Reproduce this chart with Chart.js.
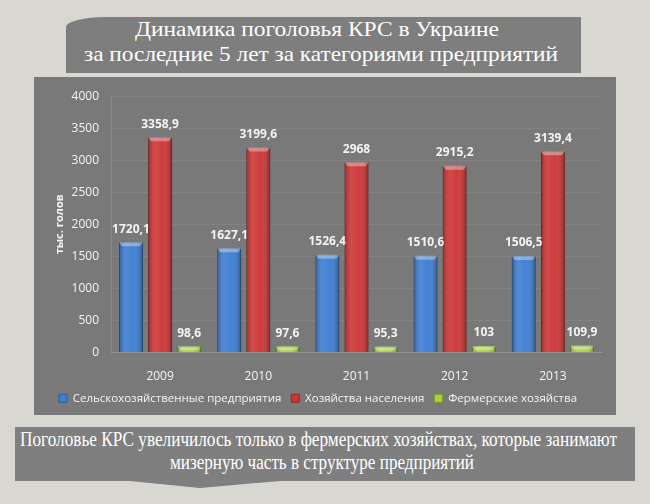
<!DOCTYPE html>
<html>
<head>
<meta charset="utf-8">
<script src="https://cdn.jsdelivr.net/npm/chart.js@4"></script>
<style>
    body { margin: 0; width: 650px; height: 504px; background: #d9d7d1; position: relative; overflow: hidden; }
    #caixaTitulo { position: absolute; left: 66px; top: 17px; width: 515px; height: 56px; background: #7e7e7e; border-top-left-radius: 40px 10px; }
    #painel { position: absolute; left: 34px; top: 77px; width: 582px; height: 338px; background: #797979; }
    #caixaNota { position: absolute; left: 15px; top: 427px; width: 620px; height: 62px; background: #7f7f7f;
        clip-path: polygon(0 0, 620px 0, 620px 54px, 265px 54px, 185px 61px, 115px 54px, 0 54px); }
    .linha { position: absolute; white-space: nowrap; color: #fff; font-family: "Liberation Serif", "DejaVu Serif", serif; font-size: 21px; line-height: 21px; }
    .linha span { display: inline-block; transform-origin: 0 0; }
</style>
</head>
<body>
<div id="caixaTitulo"></div>
<div id="painel"><canvas id="grafico" width="582" height="338"></canvas></div>
<div id="caixaNota"></div>

<div class="linha" data-cx="317" data-w="364" style="top:19px"><span>Динамика поголовья КРС в Украине</span></div>
<div class="linha" data-cx="321" data-w="474" style="top:44px"><span>за последние 5 лет за категориями предприятий</span></div>
<div class="linha" data-cx="318" data-w="597" style="top:429px"><span>Поголовье КРС увеличилось только в фермерских хозяйствах, которые занимают</span></div>
<div class="linha" data-cx="322" data-w="304" style="top:452px"><span>мизерную часть в структуре предприятий</span></div>

<script>
// Dados do gráfico
const anos = ["2009", "2010", "2011", "2012", "2013"];
const seriesNomes = ["Сельскохозяйственные предприятия", "Хозяйства населения", "Фермерские хозяйства"];
const selhozPredpr = [1720.1, 1627.1, 1526.4, 1510.6, 1506.5];
const hozNaselenia = [3358.9, 3199.6, 2968, 2915.2, 3139.4];
const fermerHoz = [98.6, 97.6, 95.3, 103, 109.9];
const coresSeries = ["#3d7dd2", "#cc3535", "#abd03f"];
const coresBordas = ["#2b5c9c", "#962626", "#7d9a2a"];

const fonteGrafico = '"Open Sans", "Liberation Sans", sans-serif';
const corTexto = "#f4f4f4";

// Ajusta largura das linhas de texto
document.querySelectorAll(".linha").forEach(el => {
    const span = el.querySelector("span");
    const natural = span.getBoundingClientRect().width;
    const alvo = parseFloat(el.dataset.w);
    span.style.transform = "scaleX(" + (alvo / natural) + ")";
    el.style.left = (parseFloat(el.dataset.cx) - alvo / 2) + "px";
});

// Sombreado 3D e rótulos sobre as barras
const efeitoBarras = {
    id: "efeitoBarras",
    afterDatasetsDraw(chart) {
        const ctx = chart.ctx;
        ctx.save();
        chart.data.datasets.forEach((ds, i) => {
            const meta = chart.getDatasetMeta(i);
            meta.data.forEach((bar, j) => {
                const esq = bar.x - bar.width / 2;
                const alt = bar.base - bar.y;
                const g = ctx.createLinearGradient(esq, 0, esq + bar.width, 0);
                g.addColorStop(0, "rgba(0,0,0,0.25)");
                g.addColorStop(0.3, "rgba(255,255,255,0.10)");
                g.addColorStop(0.6, "rgba(255,255,255,0.04)");
                g.addColorStop(1, "rgba(0,0,0,0.30)");
                ctx.fillStyle = g;
                ctx.fillRect(esq, bar.y, bar.width, alt);
                // topo chanfrado
                const h = Math.min(4, alt);
                ctx.fillStyle = "rgba(255,255,255,0.35)";
                ctx.beginPath();
                ctx.moveTo(esq, bar.y);
                ctx.lineTo(esq + bar.width, bar.y);
                ctx.lineTo(esq + bar.width - 3, bar.y + h);
                ctx.lineTo(esq + 3, bar.y + h);
                ctx.closePath();
                ctx.fill();

                const valor = ds.data[j];
                ctx.fillStyle = corTexto;
                ctx.font = "bold 12px " + fonteGrafico;
                ctx.textAlign = "center";
                ctx.textBaseline = "middle";
                ctx.fillText(String(valor).replace(".", ","), bar.x, bar.y - 13);
            });
        });
        ctx.restore();
    }
};

const ctx = document.getElementById("grafico").getContext("2d");
const grafico = new Chart(ctx, {
    type: "bar",
    data: {
        labels: anos,
        datasets: [selhozPredpr, hozNaselenia, fermerHoz].map((dados, i) => ({
            label: seriesNomes[i],
            data: dados,
            backgroundColor: coresSeries[i],
            borderColor: coresBordas[i],
            borderWidth: 1,
            categoryPercentage: 0.89,
            barPercentage: 0.82,
        }))
    },
    options: {
        responsive: false,
        animation: false,
        devicePixelRatio: 1,
        layout: { padding: { top: 15, right: 14, bottom: 1, left: 0 } },
        plugins: {
            legend: {
                position: "bottom",
                labels: {
                    color: corTexto,
                    font: { family: fonteGrafico, size: 11.5 },
                    boxWidth: 8,
                    boxHeight: 8,
                    padding: 10,
                }
            },
            tooltip: { enabled: false }
        },
        scales: {
            x: {
                grid: { display: false },
                border: { color: "rgba(255,255,255,0.12)" },
                ticks: { color: corTexto, font: { family: fonteGrafico, size: 12 }, padding: 9 },
                afterFit(scale) { scale.height = 30; }
            },
            y: {
                min: 0,
                max: 4000,
                ticks: {
                    stepSize: 500,
                    color: corTexto,
                    font: { family: fonteGrafico, size: 12 },
                    padding: 12,
                    callback: v => String(v)
                },
                grid: { color: "rgba(255,255,255,0.07)", drawTicks: false },
                border: { color: "rgba(255,255,255,0.12)" },
                title: {
                    display: true,
                    text: "тыс. голов",
                    color: corTexto,
                    font: { family: fonteGrafico, size: 11, weight: "bold" },
                    padding: { top: 19, bottom: 0 }
                },
                afterFit(scale) { scale.width = 77; }
            }
        }
    },
    plugins: [efeitoBarras]
});
</script>
</body>
</html>
